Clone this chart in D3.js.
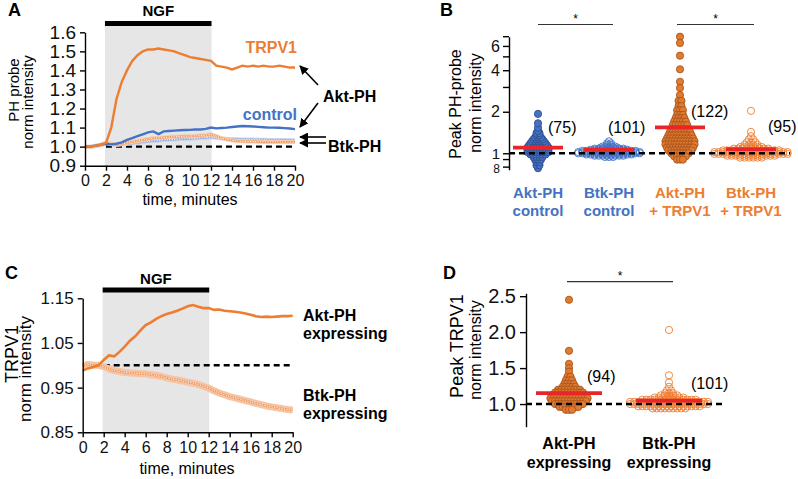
<!DOCTYPE html>
<html><head><meta charset="utf-8">
<script src="https://cdn.jsdelivr.net/npm/d3@7"></script>
<style>body{margin:0;background:#fff}svg{font-family:"Liberation Sans",Arial,sans-serif}</style>
</head><body>
<svg id="c" width="798" height="479"></svg>
<script>
// ---------------- DATA ----------------
const timeMin = [0,0.5,1,1.5,2,2.5,3,3.5,4,4.5,5,5.5,6,6.5,7,7.5,8,8.5,9,9.5,10,10.5,11,11.5,12,12.5,13,13.5,14,14.5,15,15.5,16,16.5,17,17.5,18,18.5,19,19.5,20];
const xTicks = [0,2,4,6,8,10,12,14,16,18,20];
const ngfWindow = [1.9, 12.05];

// Panel A: PH probe norm intensity
const aktTrpv1 = [1.00,1.00,1.005,1.01,1.02,1.10,1.25,1.34,1.40,1.45,1.48,1.50,1.51,1.51,1.515,1.51,1.505,1.50,1.49,1.48,1.47,1.465,1.46,1.455,1.45,1.425,1.42,1.415,1.405,1.415,1.425,1.42,1.425,1.42,1.425,1.42,1.42,1.425,1.42,1.415,1.415];
const aktCtrl = [1.00,1.00,1.005,1.01,1.015,1.012,1.015,1.022,1.035,1.045,1.055,1.065,1.075,1.08,1.066,1.08,1.082,1.084,1.086,1.087,1.088,1.09,1.09,1.093,1.10,1.096,1.098,1.10,1.103,1.106,1.108,1.107,1.106,1.104,1.102,1.10,1.10,1.099,1.097,1.095,1.092];
const btkCtrl = [1.00,1.00,1.005,1.01,1.02,1.015,1.01,1.012,1.015,1.018,1.02,1.024,1.028,1.03,1.032,1.035,1.036,1.038,1.04,1.04,1.042,1.044,1.045,1.047,1.05,1.046,1.043,1.041,1.04,1.039,1.038,1.038,1.037,1.036,1.036,1.035,1.035,1.035,1.035,1.034,1.034];
const btkTrpv1 = [1.00,0.998,1.003,1.008,1.02,1.012,1.01,1.014,1.02,1.025,1.03,1.035,1.04,1.044,1.046,1.048,1.05,1.052,1.053,1.055,1.055,1.056,1.058,1.06,1.065,1.055,1.045,1.038,1.034,1.03,1.028,1.027,1.027,1.026,1.025,1.025,1.025,1.025,1.024,1.024,1.024];
const yTicksA = [0.9,1.0,1.1,1.2,1.3,1.4,1.5,1.6];

// Panel B: peak PH-probe (value bins + counts)
const groupsB = ["Akt-PH|control","Btk-PH|control","Akt-PH|+ TRPV1","Btk-PH|+ TRPV1"];
const nB = ["(75)","(101)","(122)","(95)"];
const meansB = [1.098,1.06,1.54,1.07];
const aktCtrlPeakVals = [0.78,0.82,0.86,0.9,0.94,0.98,1.02,1.06,1.1,1.14,1.18,1.22,1.26,1.3,1.35,1.4,1.45,1.53,1.65,1.93];
const aktCtrlPeakCnts = [1,2,2,3,4,6,8,8,8,7,6,5,4,3,2,2,1,1,1,1];
const btkCtrlPeakVals = [0.94,0.96,0.98,1.0,1.02,1.04,1.06,1.08,1.1,1.12,1.15,1.18,1.22];
const btkCtrlPeakCnts = [3,8,12,16,16,14,10,8,5,4,2,2,1];
const aktTrpPeakVals = [7.0,6.3,5.1,4.06,3.3,2.97,2.64,2.4,2.2,2.05,1.9,1.8,1.7,1.6,1.5,1.42,1.35,1.28,1.22,1.16,1.1,1.05,1.0,0.95,0.9];
const aktTrpPeakCnts = [1,1,1,1,1,1,1,2,2,3,3,4,5,6,7,8,9,10,11,11,10,9,7,5,3];
const btkTrpPeakVals = [2.03,1.43,1.33,1.26,1.2,1.15,1.11,1.08,1.05,1.02,0.99,0.96,0.93];
const btkTrpPeakCnts = [1,1,1,2,3,4,6,9,14,18,18,12,6];
const yTicksB = [0.8,1,2,4,6];
const yTickLabelsB = ["8","1","2","4","6"];
const yMinorB = [0.9,3,5,7];

// Panel C: TRPV1 norm intensity
const aktExpr = [0.988,0.993,0.996,1.0,1.012,1.022,1.02,1.03,1.042,1.055,1.065,1.078,1.09,1.096,1.104,1.11,1.115,1.118,1.122,1.127,1.132,1.135,1.131,1.128,1.128,1.124,1.125,1.122,1.121,1.12,1.118,1.116,1.113,1.11,1.108,1.109,1.108,1.109,1.11,1.11,1.111];
const btkExpr = [0.998,1.002,1.0,1.0,0.997,0.992,0.988,0.986,0.984,0.983,0.982,0.981,0.981,0.979,0.977,0.975,0.972,0.969,0.967,0.965,0.962,0.96,0.957,0.953,0.949,0.943,0.938,0.934,0.93,0.927,0.924,0.921,0.918,0.915,0.912,0.909,0.907,0.905,0.903,0.901,0.90];
const yTicksC = [0.85,0.95,1.05,1.15];

// Panel D: peak TRPV1
const groupsD = ["Akt-PH|expressing","Btk-PH|expressing"];
const nD = ["(94)","(101)"];
const meansD = [1.153,1.047];
const aktExprPeakVals = [2.45,1.74,1.56,1.5,1.45,1.38,1.33,1.28,1.24,1.2,1.16,1.12,1.08,1.04,1.0,0.96,0.92];
const aktExprPeakCnts = [1,1,1,1,1,2,3,4,5,8,10,12,13,12,10,7,3];
const btkExprPeakVals = [2.03,1.4,1.3,1.24,1.19,1.15,1.12,1.09,1.06,1.03,1.0,0.97,0.94];
const btkExprPeakCnts = [1,1,1,1,2,3,5,8,14,20,20,16,9];
const yTicksD = [1.0,1.5,2.0,2.5];

// ---------------- STYLE ----------------
const BLUE="#4472C4", BLUE_D="#2F4F8F", BLUE_L="#8EA9DB";
const ORANGE="#ED7D31", ORANGE_D="#A9541C";
const RED="#E8262A", GRAY="#E6E6E7";

const svg = d3.select("#c");
const defs = svg.append("defs");
defs.append("marker").attr("id","arr").attr("viewBox","0 0 10 10").attr("refX",9).attr("refY",5)
  .attr("markerWidth",9).attr("markerHeight",9).attr("markerUnits","userSpaceOnUse").attr("orient","auto")
  .append("path").attr("d","M0,0L10,5L0,10z").attr("fill","#000");

function styleAxis(g, fs){
  g.attr("font-family",null).attr("font-size",null);
  g.select(".domain").attr("stroke","#000").attr("stroke-width",1.4);
  g.selectAll(".tick line").attr("stroke","#000").attr("stroke-width",1.4);
  g.selectAll(".tick text").attr("font-size",fs).attr("fill","#111");
}
function txt(x,y,s,opt={}){
  const t = svg.append("text").attr("x",x).attr("y",y).text(s)
    .attr("font-size",opt.fs||16).attr("font-weight",opt.bold?"bold":"normal")
    .attr("fill",opt.fill||"#000").attr("text-anchor",opt.anchor||"start");
  if(opt.rot) t.attr("transform",`rotate(-90,${x},${y})`);
  return t;
}
// dot-plot rows: each value bin becomes a centred row of dots
function rows(vals,cnts,s){
  const pts=[];
  vals.forEach((v,i)=>{const n=cnts[i]; for(let j=0;j<n;j++) pts.push({v,dx:(j-(n-1)/2)*s});});
  return pts;
}

// ---------------- PANEL A ----------------
const xA = d3.scaleLinear().domain([0,20]).range([85,295]);
const yA = d3.scaleLinear().domain([0.9,1.6]).range([165.7,32.3]);
svg.append("rect").attr("x",xA(ngfWindow[0])).attr("width",xA(ngfWindow[1])-xA(ngfWindow[0]))
  .attr("y",26).attr("height",yA(0.9)-26).attr("fill",GRAY);
svg.append("rect").attr("x",xA(ngfWindow[0])).attr("width",xA(ngfWindow[1])-xA(ngfWindow[0]))
  .attr("y",21).attr("height",5).attr("fill","#000");
txt((xA(ngfWindow[0])+xA(ngfWindow[1]))/2,16,"NGF",{bold:true,anchor:"middle",fs:15});
txt(8,16,"A",{bold:true,fs:18});

svg.append("line").attr("x1",xA(2)).attr("x2",xA(20)).attr("y1",yA(1)).attr("y2",yA(1))
  .attr("stroke","#000").attr("stroke-width",2.4).attr("stroke-dasharray","6,4");
const lineA = d3.line().x((d,i)=>xA(timeMin[i])).y(d=>yA(d));
function markerSeries(data, line, band, mid, bw){
  svg.append("path").attr("d",line(data)).attr("fill","none").attr("stroke",band).attr("stroke-width",bw).attr("stroke-linejoin","round");
  svg.append("path").attr("d",line(data)).attr("fill","none").attr("stroke",mid).attr("stroke-width",2);
  svg.append("path").attr("d",line(data)).attr("fill","none").attr("stroke","#fff").attr("stroke-width",1).attr("stroke-dasharray","1.2,1.3");
}
markerSeries(btkCtrl, lineA, "#C9D5EE", BLUE_L, 4);
markerSeries(btkTrpv1, lineA, "#F8CDB0", "#EE9A62", 4);
svg.append("path").attr("d",lineA(aktCtrl)).attr("fill","none").attr("stroke",BLUE).attr("stroke-width",2.4);
svg.append("path").attr("d",lineA(aktTrpv1)).attr("fill","none").attr("stroke",ORANGE).attr("stroke-width",2.4);

const gyA = svg.append("g").attr("transform",`translate(${xA(0)},0)`)
  .call(d3.axisLeft(yA).tickValues(yTicksA).tickFormat(d3.format(".1f")).tickSize(5).tickSizeOuter(0).tickPadding(4));
styleAxis(gyA,19);
const gxA = svg.append("g").attr("transform",`translate(0,${yA(0.9)})`)
  .call(d3.axisBottom(xA).tickValues(xTicks).tickFormat(d3.format("d")).tickSize(5).tickSizeOuter(0).tickPadding(4));
styleAxis(gxA,16);
txt(190,205,"time, minutes",{anchor:"middle",fs:16});
txt(19,90,"PH probe",{anchor:"middle",fs:15,rot:true});
txt(33,102,"norm intensity",{anchor:"middle",fs:15,rot:true});
txt(297,53,"TRPV1",{anchor:"end",bold:true,fill:ORANGE,fs:16});
txt(297,120,"control",{anchor:"end",bold:true,fill:BLUE,fs:16});
txt(323,102,"Akt-PH",{bold:true,fs:16});
txt(328,152,"Btk-PH",{bold:true,fs:16});
[[318,85,300,66],[318,103,300,127],[326,137,300,137],[326,143,300,143]].forEach(a=>{
  svg.append("line").attr("x1",a[0]).attr("y1",a[1]).attr("x2",a[2]).attr("y2",a[3])
    .attr("stroke","#000").attr("stroke-width",1.6).attr("marker-end","url(#arr)");
});

// ---------------- PANEL B ----------------
const yB = d3.scaleLog().domain([0.76,7]).range([169.7,36.7]);
const xB = d3.scalePoint().domain(groupsB).range([538,751]);
txt(440,16,"B",{bold:true,fs:18});
const swB = [
  {pts:rows(aktCtrlPeakVals,aktCtrlPeakCnts,3.0), fill:BLUE, stroke:BLUE_D},
  {pts:rows(btkCtrlPeakVals,btkCtrlPeakCnts,4.1), fill:"none", stroke:BLUE},
  {pts:rows(aktTrpPeakVals,aktTrpPeakCnts,2.9), fill:"#E07B30", stroke:ORANGE_D},
  {pts:rows(btkTrpPeakVals,btkTrpPeakCnts,4.3), fill:"none", stroke:ORANGE}
];
swB.forEach((s,i)=>{
  const cx = xB(groupsB[i]);
  s.pts.forEach(p=>{
    svg.append("circle").attr("cx",cx+p.dx).attr("cy",yB(p.v)).attr("r",3.6)
      .attr("fill",s.fill).attr("stroke",s.stroke).attr("stroke-width",0.9);
  });
});
svg.append("line").attr("x1",509).attr("x2",790).attr("y1",yB(1)).attr("y2",yB(1))
  .attr("stroke","#000").attr("stroke-width",2.4).attr("stroke-dasharray","6,4");
meansB.forEach((m,i)=>{
  const cx=xB(groupsB[i]);
  svg.append("line").attr("x1",cx-25).attr("x2",cx+25).attr("y1",yB(m)).attr("y2",yB(m))
    .attr("stroke",RED).attr("stroke-width",3.8);
});
const gyB = svg.append("g").attr("transform","translate(509,0)")
  .call(d3.axisLeft(yB).tickValues(yTicksB).tickFormat((d,i)=>yTickLabelsB[i]).tickSize(6).tickSizeOuter(0).tickPadding(3));
styleAxis(gyB,16);
gyB.selectAll(".tick text").filter(d=>d<1).attr("font-size",12).attr("dy","0.45em");
gyB.selectAll(".tick text").filter(d=>d===1).attr("font-size",15);
gyB.selectAll(".minor").data(yMinorB).enter().append("line").attr("x1",-6).attr("x2",0)
  .attr("y1",d=>yB(d)).attr("y2",d=>yB(d)).attr("stroke","#000").attr("stroke-width",1.4);
txt(461,104,"Peak PH-probe",{anchor:"middle",fs:16,rot:true});
txt(481,103,"norm intensity",{anchor:"middle",fs:16,rot:true});
const bCols=[BLUE,BLUE,ORANGE,ORANGE];
groupsB.forEach((g,i)=>{
  const [l1,l2]=g.split("|");
  txt(xB(g),198,l1,{anchor:"middle",bold:true,fill:bCols[i],fs:15});
  txt(xB(g),216,l2,{anchor:"middle",bold:true,fill:bCols[i],fs:15});
});
[[548,133],[608,133],[691,117],[768,132]].forEach((p,i)=>txt(p[0],p[1],nB[i],{fs:16}));
[[538,613],[677,754]].forEach(s=>{
  svg.append("line").attr("x1",s[0]).attr("x2",s[1]).attr("y1",24.5).attr("y2",24.5).attr("stroke","#333").attr("stroke-width",1.2);
  txt((s[0]+s[1])/2,23,"*",{anchor:"middle",fs:12});
});

// ---------------- PANEL C ----------------
const xC = d3.scaleLinear().domain([0,20]).range([82.7,292.7]);
const yC = d3.scaleLinear().domain([0.85,1.15]).range([432.3,298.3]);
svg.append("rect").attr("x",xC(ngfWindow[0])).attr("width",xC(ngfWindow[1])-xC(ngfWindow[0]))
  .attr("y",292).attr("height",yC(0.85)-292).attr("fill",GRAY);
svg.append("rect").attr("x",xC(ngfWindow[0])).attr("width",xC(ngfWindow[1])-xC(ngfWindow[0]))
  .attr("y",287.5).attr("height",5).attr("fill","#000");
txt((xC(ngfWindow[0])+xC(ngfWindow[1]))/2,284,"NGF",{bold:true,anchor:"middle",fs:15});
txt(5,279,"C",{bold:true,fs:18});
svg.append("line").attr("x1",xC(2)).attr("x2",xC(20)).attr("y1",yC(1)).attr("y2",yC(1))
  .attr("stroke","#000").attr("stroke-width",2.4).attr("stroke-dasharray","6,4");
const lineC = d3.line().x((d,i)=>xC(timeMin[i])).y(d=>yC(d));
markerSeries(btkExpr, lineC, "#F6C4A2", "#EE9A62", 7);
svg.append("path").attr("d",lineC(aktExpr)).attr("fill","none").attr("stroke",ORANGE).attr("stroke-width",2.6);
const gyC = svg.append("g").attr("transform",`translate(${xC(0)},0)`)
  .call(d3.axisLeft(yC).tickValues(yTicksC).tickFormat(d3.format(".2f")).tickSize(5).tickSizeOuter(0).tickPadding(4));
styleAxis(gyC,17);
const gxC = svg.append("g").attr("transform",`translate(0,${yC(0.85)})`)
  .call(d3.axisBottom(xC).tickValues(xTicks).tickFormat(d3.format("d")).tickSize(5).tickSizeOuter(0).tickPadding(4));
styleAxis(gxC,16);
txt(187,474,"time, minutes",{anchor:"middle",fs:16});
txt(18,354,"TRPV1",{anchor:"middle",fs:18,rot:true});
txt(31,369,"norm intensity",{anchor:"middle",fs:17,rot:true});
txt(303,321,"Akt-PH",{bold:true,fs:16});
txt(303,339,"expressing",{bold:true,fs:16});
txt(303,401,"Btk-PH",{bold:true,fs:16});
txt(303,419,"expressing",{bold:true,fs:16});

// ---------------- PANEL D ----------------
const yD = d3.scaleLinear().domain([0.685,2.54]).range([426.7,293.3]);
const xD = d3.scalePoint().domain(groupsD).range([569,669]);
txt(443,279,"D",{bold:true,fs:18});
const swD = [
  {pts:rows(aktExprPeakVals,aktExprPeakCnts,3.1), fill:"#E07B30", stroke:ORANGE_D},
  {pts:rows(btkExprPeakVals,btkExprPeakCnts,4.1), fill:"none", stroke:ORANGE}
];
swD.forEach((s,i)=>{
  const cx=xD(groupsD[i]);
  s.pts.forEach(p=>{
    svg.append("circle").attr("cx",cx+p.dx).attr("cy",yD(p.v)).attr("r",3.6)
      .attr("fill",s.fill).attr("stroke",s.stroke).attr("stroke-width",0.9);
  });
});
svg.append("line").attr("x1",526).attr("x2",723).attr("y1",yD(1)).attr("y2",yD(1))
  .attr("stroke","#000").attr("stroke-width",2.4).attr("stroke-dasharray","6,4");
meansD.forEach((m,i)=>{
  const cx=xD(groupsD[i]);
  svg.append("line").attr("x1",cx-33).attr("x2",cx+33).attr("y1",yD(m)).attr("y2",yD(m))
    .attr("stroke",RED).attr("stroke-width",3.8);
});
const gyD = svg.append("g").attr("transform","translate(526,0)")
  .call(d3.axisLeft(yD).tickValues(yTicksD).tickFormat(d3.format(".1f")).tickSize(6).tickSizeOuter(0).tickPadding(4));
styleAxis(gyD,20);
txt(463,346,"Peak TRPV1",{anchor:"middle",fs:18,rot:true});
txt(481,350,"norm intensity",{anchor:"middle",fs:16,rot:true});
groupsD.forEach((g,i)=>{
  const [l1,l2]=g.split("|");
  txt(xD(g),449,l1,{anchor:"middle",bold:true,fs:16});
  txt(xD(g),468,l2,{anchor:"middle",bold:true,fs:16});
});
[[587,382],[691,389]].forEach((p,i)=>txt(p[0],p[1],nD[i],{fs:16}));
svg.append("line").attr("x1",567).attr("x2",673).attr("y1",281.7).attr("y2",281.7).attr("stroke","#333").attr("stroke-width",1.2);
txt(620,280,"*",{anchor:"middle",fs:12});
</script></body></html>
